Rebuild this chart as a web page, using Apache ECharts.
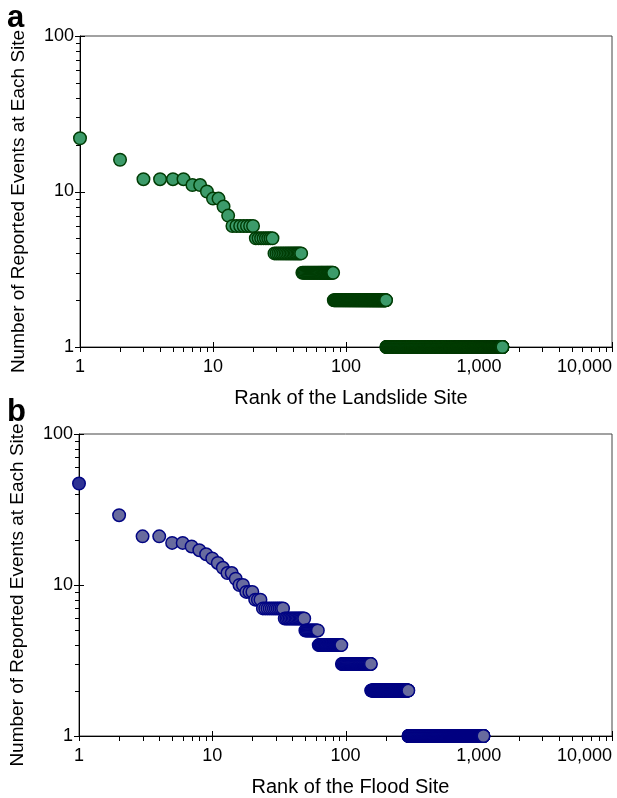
<!DOCTYPE html>
<html>
<head>
<meta charset="utf-8">
<script src="https://cdn.jsdelivr.net/npm/echarts@6/dist/echarts.min.js"></script>
<style>
html,body{margin:0;padding:0;background:#fff;}
#chart{width:617px;height:798px;}
</style>
</head>
<body>
<div id="chart"></div>
<script>
// ---- Data ----
// Panel a: landslide sites. Individually resolved ranks 1..13:
const landslideTopValues = [22, 16, 12, 12, 12, 12, 11, 11, 10, 9, 9, 8, 7];
// Tied groups after that: value and last rank of each group
const landslideTieValues = [6, 5, 4, 3, 2, 1];
const landslideTieLastRank = [20, 28, 46, 80, 200, 1500];

// Panel b: flood sites. Individually resolved ranks 1..23:
const floodTopValues = [47, 29, 21, 21, 19, 19, 18, 17, 16, 15, 14, 13, 12, 12, 11, 10, 10, 9, 9, 9, 8, 8, 8];
const floodTieValues = [7, 6, 5, 4, 3, 2, 1];
const floodTieLastRank = [34, 49, 62, 93, 155, 296, 1085];

// Axis ticks
const xMajorTicks = [1, 10, 100, 1000, 10000];
const xMinorTicks = [2,3,4,5,6,7,8,9,20,30,40,50,60,70,80,90,200,300,400,500,600,700,800,900,2000,3000,4000,5000,6000,7000,8000,9000];
const yMajorTicks = [1, 10, 100];
const yMinorTicks = [2,3,4,5,6,7,8,9,20,30,40,50,60,70,80,90];

const xAxisNames = ['Rank of the Landslide Site', 'Rank of the Flood Site'];
const yAxisName = 'Number of Reported Events at Each Site';
const panelLetters = ['a', 'b'];

// ---- Build rank/value pairs ----
function buildPoints(topValues, tieValues, tieLast) {
  const pts = [];
  topValues.forEach((v, i) => pts.push([i + 1, v]));
  let rank = topValues.length + 1;
  tieValues.forEach((v, g) => {
    for (; rank <= tieLast[g]; rank++) pts.push([rank, v]);
  });
  return pts;
}
const landslidePoints = buildPoints(landslideTopValues, landslideTieValues, landslideTieLastRank);
const floodPoints = buildPoints(floodTopValues, floodTieValues, floodTieLastRank);
const floodData = floodPoints.map((p, i) => i === 0 ? {value: p, itemStyle: {color: '#2e3294'}} : p);

const FONT = 'Liberation Sans, Arial, Helvetica, sans-serif';

function tickSeries(gridIdx, axis, values, inner, outer) {
  return {
    type: 'custom',
    xAxisIndex: gridIdx, yAxisIndex: gridIdx,
    silent: true, clip: false, z: 1,
    data: values.map(v => axis === 'x' ? [v, 1] : [1, v]),
    renderItem: function (params, api) {
      const p = api.coord([api.value(0), api.value(1)]);
      if (axis === 'x') {
        const x = Math.round(p[0]) + 0.5;
        return {type: 'line', shape: {x1: x, y1: p[1] - inner, x2: x, y2: p[1] + outer},
                style: {stroke: '#000', lineWidth: 1}};
      } else {
        const y = Math.round(p[1]) + 0.5;
        return {type: 'line', shape: {x1: p[0] + inner, y1: y, x2: p[0] - outer, y2: y},
                style: {stroke: '#000', lineWidth: 1}};
      }
    }
  };
}

function xAxisDef(gridIdx) {
  return {
    type: 'log', logBase: 10, min: 1, max: 10000, gridIndex: gridIdx,
    name: xAxisNames[gridIdx], nameLocation: 'middle', nameGap: 41,
    nameTextStyle: {fontFamily: FONT, fontSize: 20, color: '#000', padding: [0, 0, 0, 10]},
    axisLine: {show: true, lineStyle: {color: '#000', width: 1}},
    axisTick: {show: false},
    splitLine: {show: false},
    axisLabel: {fontFamily: FONT, fontSize: 18, color: '#000', margin: 11,
                alignMaxLabel: 'right',
                formatter: v => Math.round(v).toLocaleString('en-US')}
  };
}
function yAxisDef(gridIdx) {
  return {
    type: 'log', logBase: 10, min: 1, max: 100, gridIndex: gridIdx,
    name: yAxisName, nameLocation: 'middle', nameGap: 52,
    nameTextStyle: {fontFamily: FONT, fontSize: 19, color: '#000', padding: [0, 20, 0, 0]},
    axisLine: {show: true, lineStyle: {color: '#000', width: 1}},
    axisTick: {show: false},
    splitLine: {show: false},
    axisLabel: {fontFamily: FONT, fontSize: 18, color: '#000', margin: 6,
                formatter: v => Math.round(v).toLocaleString('en-US')}
  };
}

const chart = echarts.init(document.getElementById('chart'), null, {renderer: 'canvas'});
chart.setOption({
  animation: false,
  backgroundColor: '#fff',
  title: [
    {text: panelLetters[0], left: 2, top: -2, textStyle: {fontFamily: FONT, fontSize: 31, fontWeight: 'bold', color: '#000'}},
    {text: panelLetters[1], left: 2, top: 392, textStyle: {fontFamily: FONT, fontSize: 31, fontWeight: 'bold', color: '#000'}}
  ],
  grid: [
    {left: 80, right: 5, top: 36, height: 311, show: true, borderColor: '#444', borderWidth: 1, containLabel: false},
    {left: 78, right: 5, top: 434, height: 306, show: true, borderColor: '#444', borderWidth: 1, containLabel: false}
  ],
  xAxis: [xAxisDef(0), xAxisDef(1)],
  yAxis: [yAxisDef(0), yAxisDef(1)],
  series: [
    tickSeries(0, 'x', xMajorTicks, 5, 5),
    tickSeries(0, 'x', xMinorTicks, 0, 5),
    tickSeries(0, 'y', yMajorTicks, 5, 5),
    tickSeries(0, 'y', yMinorTicks, 0, 4),
    tickSeries(1, 'x', xMajorTicks, 5, 5),
    tickSeries(1, 'x', xMinorTicks, 0, 5),
    tickSeries(1, 'y', yMajorTicks, 5, 5),
    tickSeries(1, 'y', yMinorTicks, 0, 4),
    {
      type: 'scatter', xAxisIndex: 0, yAxisIndex: 0, z: 3,
      data: landslidePoints, symbol: 'circle', symbolSize: 12.5,
      progressive: 0, large: false, clip: false,
      itemStyle: {color: '#3c9b6a', borderColor: '#013d05', borderWidth: 1.5, opacity: 1}
    },
    {
      type: 'scatter', xAxisIndex: 1, yAxisIndex: 1, z: 3,
      data: floodData, symbol: 'circle', symbolSize: 12.5,
      progressive: 0, large: false, clip: false,
      itemStyle: {color: '#686b9e', borderColor: '#020583', borderWidth: 1.5, opacity: 1}
    }
  ]
});
</script>
</body>
</html>
